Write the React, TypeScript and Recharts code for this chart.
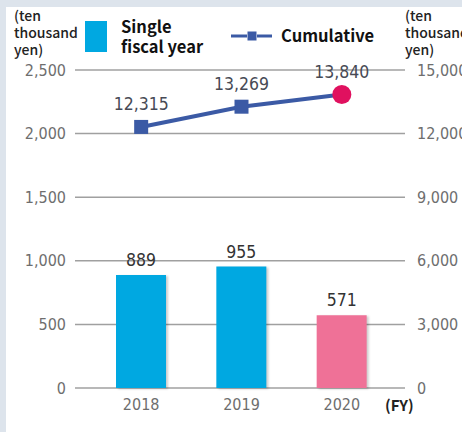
import React from 'react';
import { ComposedChart, Bar, Line, XAxis, YAxis, CartesianGrid, LabelList, Cell } from 'recharts';

const years = ['2018', '2019', '2020'];
const singleYear = [889, 955, 571];
const cumulative = [12315, 13269, 13840];
const leftTicks = [0, 500, 1000, 1500, 2000, 2500];
const rightTicks = [0, 3000, 6000, 9000, 12000, 15000];

const BAR_BLUE = '#00a8e1';
const BAR_PINK = '#ef7197';
const LINE_BLUE = '#3b5aa5';
const DOT_RED = '#e0115f';

const data = years.map((y, i) => ({ year: y, single: singleYear[i], cumulative: cumulative[i] }));

const tickFont = { fontFamily: '"DejaVu Sans Condensed", "DejaVu Sans", sans-serif', fontSize: 16, fill: '#6e6e6e' };
const fmt = (v: number) => v.toLocaleString('en-US');

// squares for past years, a red circle for the latest one
const LineDot = (props: any) => {
  const { cx, cy, index } = props;
  if (cx == null || cy == null) return null;
  if (index === cumulative.length - 1) {
    return <circle key={`d-${index}`} cx={cx} cy={cy} r={9.5} fill={DOT_RED} />;
  }
  return <rect key={`d-${index}`} x={cx - 7} y={cy - 7} width={14} height={14} fill={LINE_BLUE} />;
};

const legendFont = '"Noto Sans CJK JP", "Noto Sans", sans-serif';

export default function App() {
  return (
    <div style={{ position: 'absolute', left: 0, top: 0, width: 462, height: 432, background: '#dde4ec', overflow: 'hidden' }}>
      <div style={{ position: 'absolute', left: 6, top: 7, width: 456, height: 425, background: '#fff' }} />
      <div style={{ position: 'absolute', left: 0, top: 0 }}>
        <ComposedChart width={462} height={432} data={data} margin={{ top: 70, right: 0, bottom: 14, left: 0 }}>
          <CartesianGrid vertical={false} stroke="#a0a0a0" strokeWidth={1.5} yAxisId="left" />
          <XAxis
            dataKey="year"
            axisLine={false}
            tickLine={false}
            tickSize={6}
            tickMargin={5}
            height={30}
            padding={{ left: 16, right: 13 }}
            tick={tickFont}
          />
          <YAxis
            yAxisId="left"
            domain={[0, 2500]}
            ticks={leftTicks}
            width={75}
            axisLine={false}
            tickLine={false}
            tickMargin={3}
            tick={tickFont}
            tickFormatter={fmt}
          />
          <YAxis
            yAxisId="right"
            orientation="right"
            domain={[0, 15000]}
            ticks={rightTicks}
            width={57}
            axisLine={false}
            tickLine={false}
            tickMargin={6}
            tick={tickFont}
            tickFormatter={fmt}
          />
          <Bar yAxisId="left" dataKey="single" barSize={50} isAnimationActive={false}>
            {data.map((d, i) => (
              <Cell
                key={d.year}
                fill={i === data.length - 1 ? BAR_PINK : BAR_BLUE}
                style={{ filter: 'drop-shadow(2px 1px 1px rgba(0,0,0,0.2))' }}
              />
            ))}
            <LabelList
              dataKey="single"
              position="top"
              offset={9}
              style={{ fontFamily: '"DejaVu Sans Condensed", "DejaVu Sans", sans-serif', fontSize: 17.5, fill: '#333' }}
            />
          </Bar>
          <Line
            yAxisId="right"
            dataKey="cumulative"
            stroke={LINE_BLUE}
            strokeWidth={4}
            dot={LineDot}
            activeDot={false}
            isAnimationActive={false}
          >
            <LabelList
              dataKey="cumulative"
              position="top"
              offset={17}
              formatter={(v: any) => fmt(Number(v))}
              style={{ fontFamily: '"DejaVu Sans Condensed", "DejaVu Sans", sans-serif', fontSize: 17.5, fill: '#474a55' }}
            />
          </Line>
        </ComposedChart>
      </div>
      <svg width={462} height={432} style={{ position: 'absolute', left: 0, top: 0, pointerEvents: 'none' }}>
        {/* unit labels */}
        <g fontFamily={legendFont} fontSize={14} fontWeight={500} fill="#222">
          <text x={14} y={21}>(ten</text>
          <text x={14} y={38}>thousand</text>
          <text x={14} y={55}>yen)</text>
          <text x={405} y={21}>(ten</text>
          <text x={405} y={38}>thousand</text>
          <text x={405} y={55}>yen)</text>
        </g>
        {/* legend */}
        <rect x={85} y={21} width={22} height={31} fill={BAR_BLUE} />
        <g fontFamily={legendFont} fontSize={16.5} fontWeight={700} fill="#111">
          <text x={121} y={33}>Single</text>
          <text x={121} y={53}>fiscal year</text>
          <text x={281} y={42}>Cumulative</text>
        </g>
        <line x1={231} y1={36} x2={247} y2={36} stroke={LINE_BLUE} strokeWidth={3} />
        <line x1={257} y1={36} x2={272} y2={36} stroke={LINE_BLUE} strokeWidth={3} />
        <rect x={247.5} y={31.5} width={9} height={9} fill={LINE_BLUE} />
        <text x={385} y={411} fontFamily={legendFont} fontSize={15} fontWeight={700} fill="#222">(FY)</text>
      </svg>
    </div>
  );
}
